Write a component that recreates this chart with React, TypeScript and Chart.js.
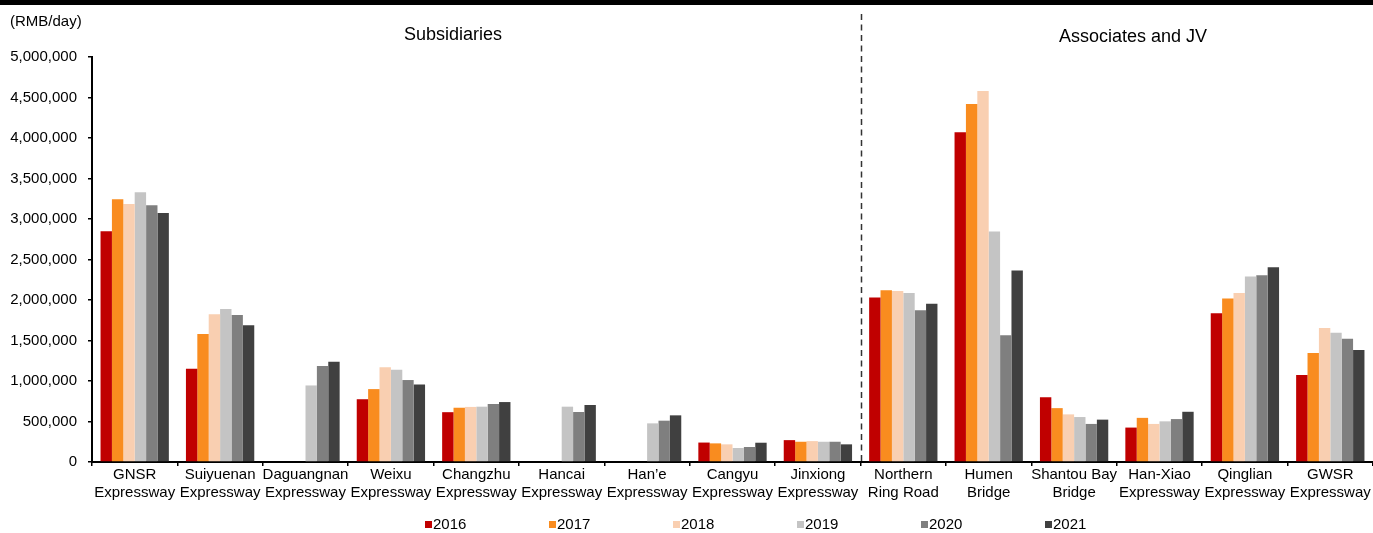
import React, { useEffect, useRef } from "react";
import { Chart, registerables } from "chart.js";

Chart.register(...registerables);

const categories: string[][] = [
  ["GNSR", "Expressway"],
  ["Suiyuenan", "Expressway"],
  ["Daguangnan", "Expressway"],
  ["Weixu", "Expressway"],
  ["Changzhu", "Expressway"],
  ["Hancai", "Expressway"],
  ["Han\u2019e", "Expressway"],
  ["Cangyu", "Expressway"],
  ["Jinxiong", "Expressway"],
  ["Northern", "Ring Road"],
  ["Humen", "Bridge"],
  ["Shantou Bay", "Bridge"],
  ["Han-Xiao", "Expressway"],
  ["Qinglian", "Expressway"],
  ["GWSR", "Expressway"],
];

const years = ["2016", "2017", "2018", "2019", "2020", "2021"];
const colors = ["#C00000", "#F98C1F", "#F9CFB1", "#C4C4C4", "#7F7F7F", "#404040"];

const v2016 = [2850000, 1150000, null, 775000, 615000, null, null, 240000, 270000, 2030000, 4070000, 800000, 425000, 1835000, 1075000];
const v2017 = [3245000, 1580000, null, 900000, 670000, null, null, 230000, 250000, 2120000, 4420000, 665000, 545000, 2020000, 1345000];
const v2018 = [3185000, 1825000, null, 1170000, 680000, null, null, 218000, 258000, 2110000, 4580000, 588000, 470000, 2085000, 1655000];
const v2019 = [3330000, 1890000, 945000, 1140000, 683000, 683000, 477000, 173000, 250000, 2085000, 2845000, 555000, 502000, 2290000, 1597000];
const v2020 = [3170000, 1815000, 1185000, 1012000, 716000, 617000, 510000, 185000, 250000, 1872000, 1565000, 470000, 530000, 2305000, 1522000];
const v2021 = [3075000, 1688000, 1239000, 958000, 740000, 704000, 576000, 238000, 218000, 1955000, 2365000, 523000, 620000, 2403000, 1383000];

const seriesValues = [v2016, v2017, v2018, v2019, v2020, v2021];

const unitLabel = "(RMB/day)";
const groupTitles = ["Subsidiaries", "Associates and JV"];
const yMax = 5000000;
const yStep = 500000;

const FONT = "'Liberation Sans', Arial, sans-serif";

const decorPlugin = {
  id: "decor",
  afterDraw(chart: any) {
    const ctx = chart.ctx as CanvasRenderingContext2D;
    const xs = chart.scales.x;
    const area = chart.chartArea;
    ctx.save();
    // top band
    ctx.fillStyle = "#000";
    ctx.fillRect(0, 0, chart.width, 5);
    // dashed separator between groups
    const dx = Math.round((xs.getPixelForValue(8) + xs.getPixelForValue(9)) / 2) + 0.5;
    ctx.strokeStyle = "#333";
    ctx.lineWidth = 1.5;
    ctx.setLineDash([6, 4.5]);
    ctx.beginPath();
    ctx.moveTo(dx, 14);
    ctx.lineTo(dx, area.bottom);
    ctx.stroke();
    ctx.setLineDash([]);
    // unit label
    ctx.fillStyle = "#000";
    ctx.textBaseline = "middle";
    ctx.textAlign = "left";
    ctx.font = `15px ${FONT}`;
    ctx.fillText(unitLabel, 10, 22);
    // group titles
    ctx.font = `18px ${FONT}`;
    ctx.textAlign = "center";
    ctx.fillText(groupTitles[0], 453, 35);
    ctx.fillText(groupTitles[1], 1133, 37);
    // legend
    ctx.font = `15px ${FONT}`;
    ctx.textAlign = "left";
    chart.data.datasets.forEach((ds: any, i: number) => {
      const bx = 425 + i * 124;
      ctx.fillStyle = ds.backgroundColor;
      ctx.fillRect(bx, 521, 7, 7);
      ctx.fillStyle = "#000";
      ctx.fillText(ds.label, bx + 8, 524.5);
    });
    ctx.restore();
  },
};

export default function App() {
  const canvasRef = useRef<HTMLCanvasElement | null>(null);

  useEffect(() => {
    document.body.style.margin = "0";
    const canvas = canvasRef.current;
    if (!canvas) return;
    const chart = new Chart(canvas, {
      type: "bar",
      data: {
        labels: categories,
        datasets: years.map((y, i) => ({
          label: y,
          data: seriesValues[i],
          backgroundColor: colors[i],
          borderWidth: 0,
          categoryPercentage: 0.8,
          barPercentage: 1.0,
        })),
      },
      options: {
        responsive: false,
        animation: false,
        devicePixelRatio: 1,
        layout: { padding: { top: 57, left: 0, right: 0, bottom: 0 } },
        plugins: {
          legend: { display: false },
          tooltip: { enabled: false },
          title: { display: false },
        },
        scales: {
          x: {
            offset: true,
            grid: {
              offset: true,
              drawOnChartArea: false,
              drawTicks: true,
              tickLength: 4,
              tickColor: "#000",
              lineWidth: 1.5,
            },
            border: { display: true, color: "#000", width: 2 },
            ticks: {
              autoSkip: false,
              maxRotation: 0,
              minRotation: 0,
              padding: 0,
              color: "#000",
              font: { family: FONT, size: 15, lineHeight: 1.2 },
            },
            afterFit(scale: any) {
              scale.height = 71;
            },
          },
          y: {
            min: 0,
            max: yMax,
            grid: {
              drawOnChartArea: false,
              drawTicks: true,
              tickLength: 4,
              tickColor: "#000",
              lineWidth: 1.5,
            },
            border: { display: true, color: "#000", width: 2 },
            ticks: {
              stepSize: yStep,
              padding: 11,
              color: "#000",
              font: { family: FONT, size: 15 },
              callback: (v: any) => Number(v).toLocaleString("en-US"),
            },
            afterFit(scale: any) {
              scale.width = 92;
            },
          },
        },
      },
      plugins: [decorPlugin],
    });
    return () => chart.destroy();
  }, []);

  return (
    <div style={{ position: "relative", width: 1373, height: 533, background: "#fff" }}>
      <canvas ref={canvasRef} width={1373} height={533} />
    </div>
  );
}
